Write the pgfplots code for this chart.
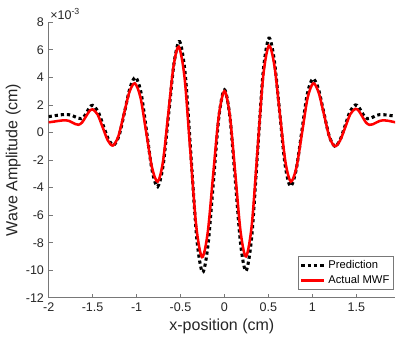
\documentclass[border=0pt]{standalone}
\usepackage{fontspec}
\setmainfont{Liberation Sans}
\usepackage{pgfplots}
\pgfplotsset{compat=1.18}
\usetikzlibrary{calc}
\definecolor{axgray}{RGB}{120,120,120}
\begin{document}
\begin{tikzpicture}
\begin{axis}[
  scale only axis,
  width=259.7pt, height=206.6pt,
  xmin=-2, xmax=1.94, ymin=-12, ymax=8,
  xtick={-2,-1.5,-1,-0.5,0,0.5,1,1.5},
  ytick={-12,-10,-8,-6,-4,-2,0,2,4,6,8},
  axis x line*=bottom, axis y line*=left,
  axis line style={axgray, line width=0.5pt, -},
  tick align=inside,
  major tick length=3pt,
  tick style={axgray, line width=0.5pt},
  /pgf/number format/assume math mode=true,
  ticklabel style={font=\fontsize{9.4}{10}\selectfont, text=black!85},
  xlabel={x-position (cm)},
  ylabel={Wave Amplitude (cm)},
  label style={font=\fontsize{12}{14}\selectfont, text=black!85},
  xlabel style={yshift=1pt},
  ylabel style={yshift=-3pt},
  clip=true,
  legend style={at={(rel axis cs:0.997,0.028)}, anchor=south east,
    draw=axgray, line width=0.5pt, font=\fontsize{8.4}{9.5}\selectfont,
    inner sep=1.2pt, row sep=-0.5pt, fill=white},
  legend cell align=left,
]
\addplot[black, line width=2.3pt, dash pattern=on 2.4pt off 2.2pt, smooth] coordinates {
(-2.00,1.15) (-1.95,1.20) (-1.90,1.25) (-1.85,1.29) (-1.78,1.30)
(-1.743,1.256) (-1.705,1.15) (-1.668,1.044) (-1.63,1.0)
(-1.598,1.142) (-1.565,1.485) (-1.533,1.828) (-1.50,1.97)
(-1.44,1.547) (-1.38,0.525) (-1.32,-0.497) (-1.26,-0.92)
(-1.198,-0.199) (-1.135,1.54) (-1.073,3.279) (-1.01,4.0)
(-0.948,2.839) (-0.885,0.035) (-0.823,-2.769) (-0.76,-3.93)
(-0.698,-2.388) (-0.635,1.335) (-0.573,5.058) (-0.51,6.6)
(-0.445,4.147) (-0.38,-1.775) (-0.315,-7.697) (-0.25,-10.15)
(-0.188,-8.210) (-0.125,-3.525) (-0.063,1.160) (0,3.1)
(0.061,1.174) (0.123,-3.475) (0.184,-8.124) (0.245,-10.05)
(0.31,-7.575) (0.375,-1.6) (0.44,4.375) (0.505,6.85)
(0.566,5.276) (0.628,1.475) (0.689,-2.326) (0.75,-3.9)
(0.814,-2.758) (0.878,0) (0.941,2.758) (1.005,3.9)
(1.068,3.182) (1.13,1.45) (1.193,-0.282) (1.255,-1.0)
(1.314,-0.561) (1.373,0.5) (1.431,1.561) (1.49,2.0)
(1.525,1.854) (1.56,1.5) (1.595,1.146) (1.63,1.0)
(1.665,1.044) (1.70,1.15) (1.735,1.256) (1.77,1.3)
(1.83,1.28) (1.89,1.23) (1.95,1.18)
};
\addlegendentry{Prediction}
\addplot[red, line width=1.9pt, smooth] coordinates {
(-2.00,0.74) (-1.95,0.78) (-1.90,0.83) (-1.85,0.87) (-1.80,0.88)
(-1.765,0.833) (-1.73,0.72) (-1.695,0.607) (-1.66,0.56)
(-1.62,0.724) (-1.58,1.12) (-1.54,1.516) (-1.50,1.68)
(-1.443,1.295) (-1.385,0.365) (-1.328,-0.565) (-1.27,-0.95)
(-1.208,-0.288) (-1.145,1.31) (-1.083,2.908) (-1.02,3.57)
(-0.955,2.524) (-0.89,0) (-0.825,-2.524) (-0.76,-3.57)
(-0.70,-2.136) (-0.64,1.325) (-0.58,4.786) (-0.52,6.22)
(-0.454,3.984) (-0.388,-1.415) (-0.321,-6.814) (-0.255,-9.05)
(-0.191,-7.285) (-0.128,-3.025) (-0.064,1.235) (0,3.0)
(0.061,1.243) (0.123,-3.0) (0.184,-7.243) (0.245,-9.0)
(0.31,-6.759) (0.375,-1.35) (0.44,4.059) (0.505,6.3)
(0.568,4.855) (0.63,1.365) (0.693,-2.125) (0.755,-3.57)
(0.819,-2.524) (0.883,0) (0.946,2.524) (1.01,3.57)
(1.071,2.901) (1.133,1.285) (1.194,-0.331) (1.255,-1.0)
(1.314,-0.602) (1.373,0.36) (1.431,1.322) (1.49,1.72)
(1.53,1.549) (1.57,1.135) (1.61,0.721) (1.65,0.55)
(1.688,0.598) (1.725,0.715) (1.763,0.832) (1.80,0.88)
(1.85,0.86) (1.90,0.80) (1.95,0.73)
};
\addlegendentry{Actual MWF}
\end{axis}
\node[anchor=south west, inner sep=0pt, font=\fontsize{9.4}{10}\selectfont, text=black!85] at ($(current axis.north west)+(1pt,2pt)$) {×10\textsuperscript{-3}};
\pgfresetboundingbox
\useasboundingbox ($(current axis.south west)+(-36.5pt,-28.7pt)$) rectangle ($(current axis.north east)+(3pt,16.7pt)$);
\end{tikzpicture}
\end{document}
